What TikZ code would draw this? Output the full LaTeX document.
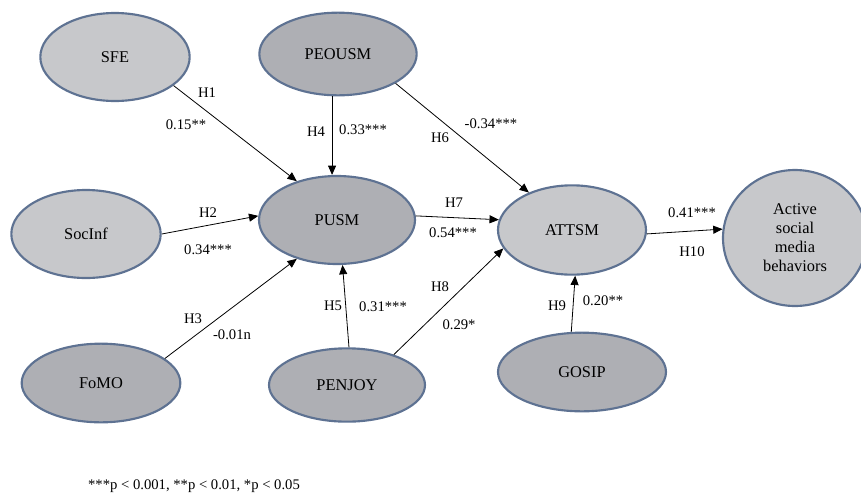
\documentclass[tikz,border=0pt]{standalone}
\usepackage{fontspec}
\setmainfont{Liberation Serif}
\definecolor{lightgrey1}{RGB}{199, 200, 203}
\definecolor{darkgrey1}{RGB}{174, 175, 180}
\definecolor{rimblue}{RGB}{94, 114, 146}
\usepackage{tikz}
\usetikzlibrary{shapes, arrows.meta, positioning, calc}

\begin{document}
\begin{tikzpicture}[x=0.75pt, y=-0.75pt,
  construct/.style={ellipse, draw=rimblue, line width=1.6pt, inner sep=0pt, font=\fontsize{12.3}{14.3}\selectfont},
  hpath/.style={-{Triangle[length=7pt, width=6pt]}, line width=0.6pt},
  coef/.style={font=\fontsize{11}{13}\selectfont}]
  \useasboundingbox (0,0) rectangle (861,494);

  % Constructs
  \node[construct, fill=lightgrey1, minimum width=112pt, minimum height=66pt] (sfe) at (115,57) {SFE};
  \node[construct, fill=darkgrey1, minimum width=118pt, minimum height=62pt] (peousm) at (338,54) {PEOUSM};
  \node[construct, fill=lightgrey1, minimum width=112pt, minimum height=66pt] (socinf) at (86,234) {SocInf};
  \node[construct, fill=darkgrey1, minimum width=117pt, minimum height=66pt] (pusm) at (337,220) {PUSM};
  \node[construct, fill=lightgrey1, minimum width=111pt, minimum height=67pt] (attsm) at (572,230) {ATTSM};
  \node[construct, fill=lightgrey1, minimum width=108pt, minimum height=102pt, align=center] (active) at (795,238) {Active\\social\\media\\behaviors};
  \node[construct, fill=darkgrey1, minimum width=119pt, minimum height=59pt] (fomo) at (101,383) {FoMO};
  \node[construct, fill=darkgrey1, minimum width=117pt, minimum height=55pt] (penjoy) at (347,385) {PENJOY};
  \node[construct, fill=darkgrey1, minimum width=126pt, minimum height=59pt] (gosip) at (582,372) {GOSIP};

  % Paths
  \draw[hpath] (sfe.-26) -- (pusm.136);
  \draw[hpath] (peousm.-98) -- (peousm.-98 |- pusm.north);
  \draw[hpath] (peousm.-27) -- (attsm.139);
  \draw[hpath] (socinf.0) -- (pusm.177);
  \draw[hpath] (pusm.3) -- (attsm.172);
  \draw[hpath] (fomo.21) -- (pusm.224);
  \draw[hpath] (penjoy.87) -- (pusm.-83);
  \draw[hpath] (penjoy.33) -- (attsm.195);
  \draw[hpath] (gosip.105) -- (attsm.-86);
  \draw[hpath] (attsm.-3) -- (active.173);

  % Hypotheses and coefficients
  \node[coef] (h1) at (207,93) {H1};
  \node[coef] (b1) at (186,125) {0.15**};
  \node[coef] (h4) at (316,132) {H4};
  \node[coef] (b4) at (363,130) {0.33***};
  \node[coef] (h6) at (440,138) {H6};
  \node[coef] (b6) at (491,124) {-0.34***};
  \node[coef] (h2) at (208,213) {H2};
  \node[coef] (b2) at (208,250) {0.34***};
  \node[coef] (h7) at (454,203) {H7};
  \node[coef] (b7) at (453,233) {0.54***};
  \node[coef] (b10) at (692,213) {0.41***};
  \node[coef] (h10) at (692,252) {H10};
  \node[coef] (h3) at (193,319) {H3};
  \node[coef] (b3) at (232,335) {-0.01n};
  \node[coef] (h5) at (333,306) {H5};
  \node[coef] (b5) at (383,307) {0.31***};
  \node[coef] (h8) at (440,287) {H8};
  \node[coef] (b8) at (459,325) {0.29*};
  \node[coef] (h9) at (557,306) {H9};
  \node[coef] (b9) at (603,301) {0.20**};

  % Significance note
  \node[coef] (note) at (194,486) {***p < 0.001, **p < 0.01, *p < 0.05};
\end{tikzpicture}
\end{document}
